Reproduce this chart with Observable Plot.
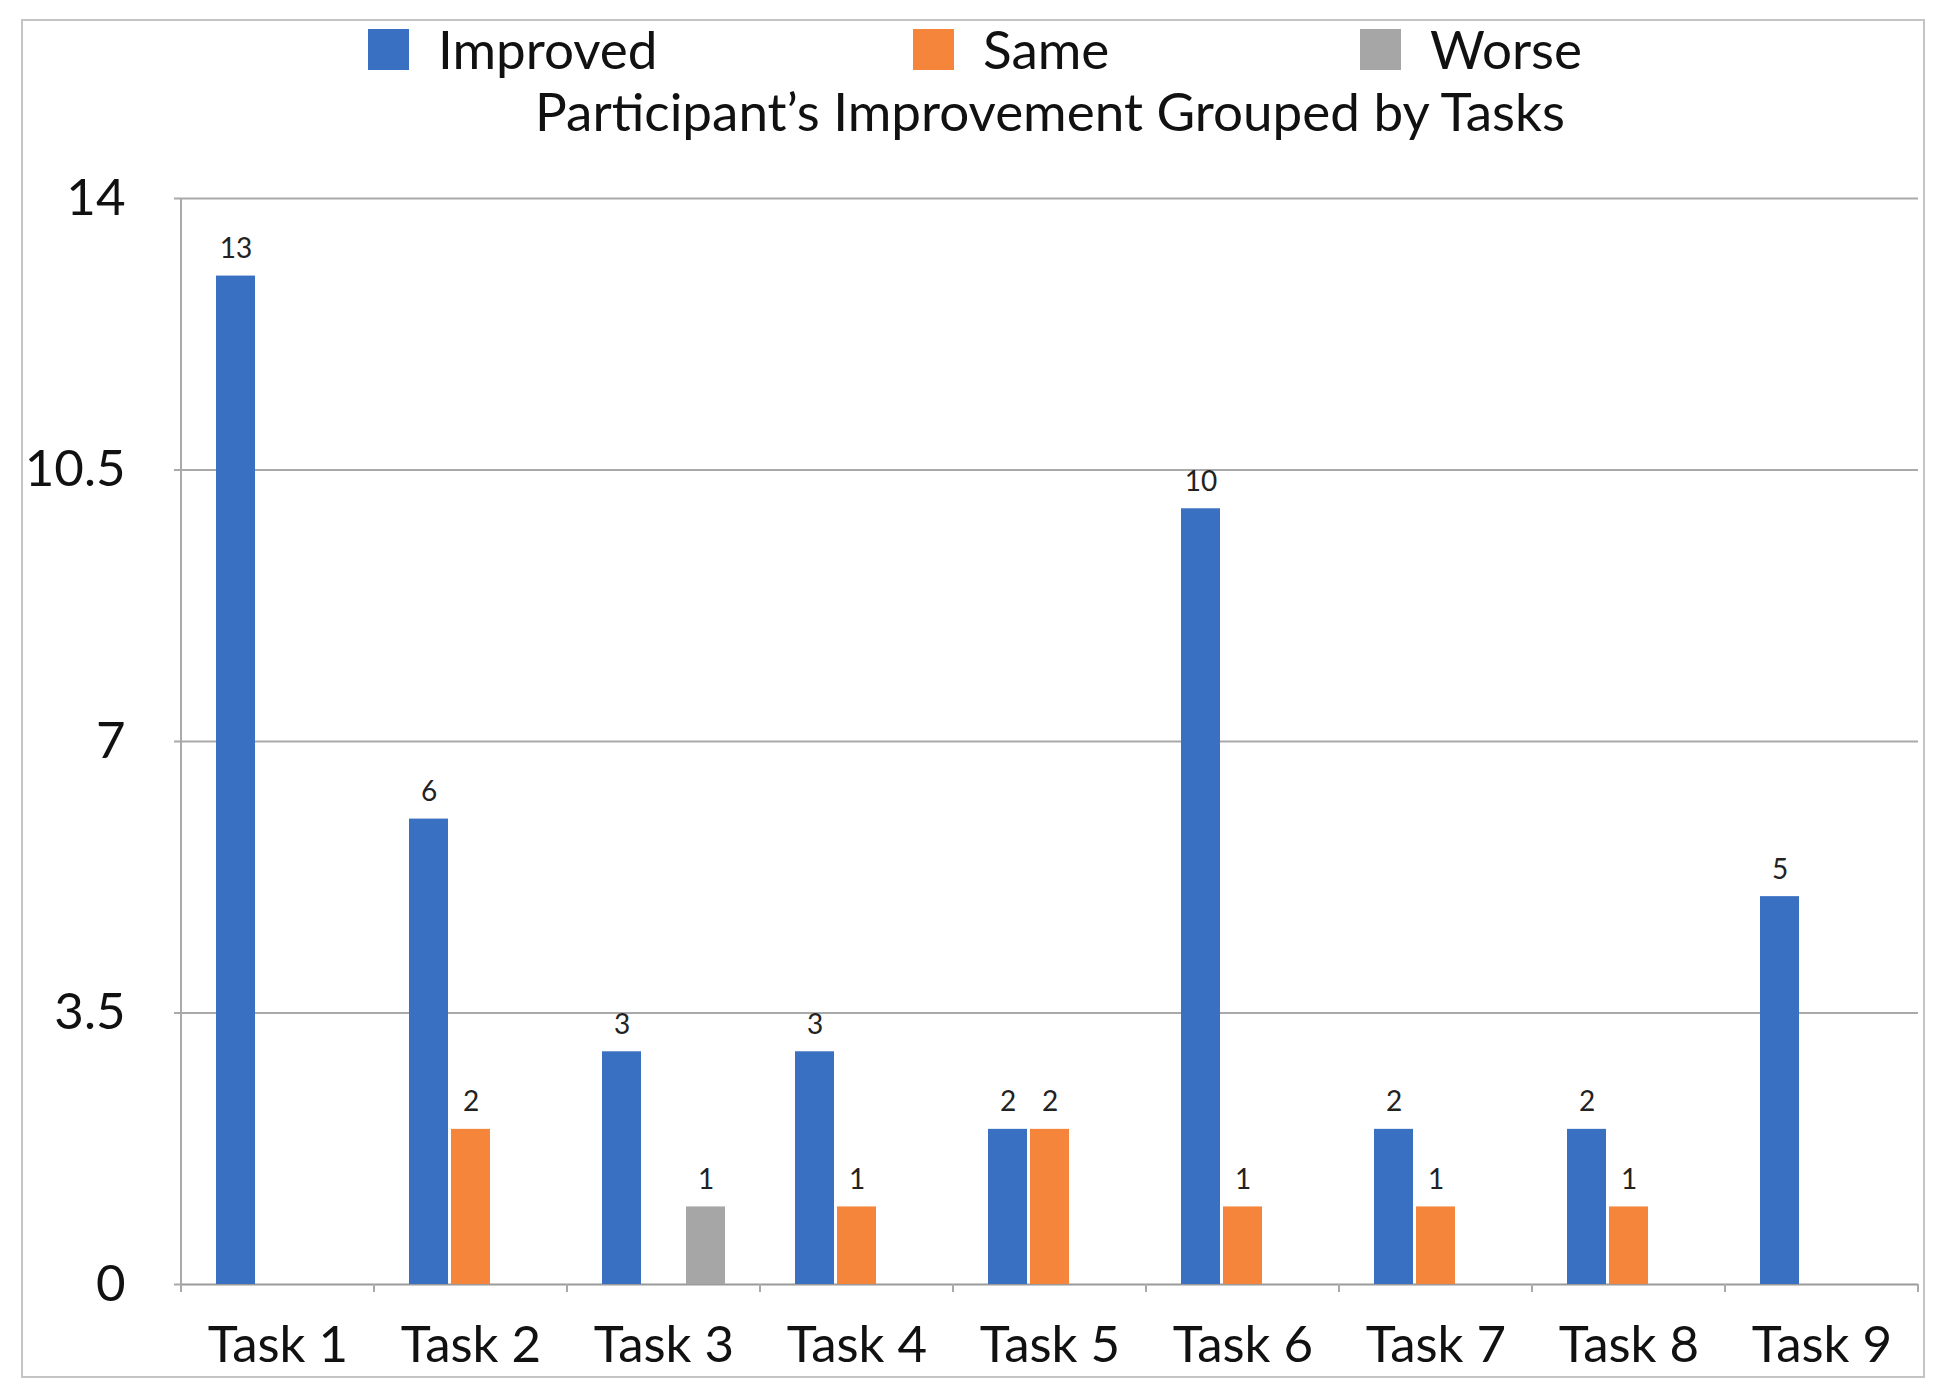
<!DOCTYPE html>
<html><head><meta charset="utf-8">
<script src="https://cdn.jsdelivr.net/npm/d3@7"></script>
<script src="https://cdn.jsdelivr.net/npm/@observablehq/plot@0.6"></script>
<style>
body{margin:0;background:#fff;font-family:Lato,sans-serif;}
#wrap{position:relative;width:1939px;height:1400px;overflow:hidden;background:#fff;}
#frame{position:absolute;left:21px;top:19px;width:1900px;height:1355px;border:2px solid #c4c4c4;pointer-events:none;}
#header{position:relative;height:160px;}
.li{position:absolute;top:24px;height:50px;display:flex;align-items:center;font-size:53px;line-height:50px;color:#111;white-space:nowrap;}
.sw{width:41px;height:41px;margin-right:29px;}
#title{position:absolute;top:85px;left:1050px;transform:translateX(-50%);font-size:53px;line-height:52px;white-space:nowrap;color:#111;}
#chart svg{display:block;}
</style></head>
<body>
<div id="wrap">
  <div id="header">
    <div id="legend"></div>
    <div id="title"></div>
  </div>
  <div id="chart"></div>
  <div id="frame"></div>
</div>
<script>
const tasks = ["Task 1","Task 2","Task 3","Task 4","Task 5","Task 6","Task 7","Task 8","Task 9"];
const series = ["Improved","Same","Worse"];
const improved = [13,6,3,3,2,10,2,2,5];
const same = [0,2,0,1,2,1,1,1,0];
const worse = [0,0,1,0,0,0,0,0,0];
const yTicks = [0,3.5,7,10.5,14];
const colors = ["#3a70c2","#f6853c","#a6a6a6"];
const titleText = "Participant’s Improvement Grouped by Tasks";

const valuesBySeries = {Improved: improved, Same: same, Worse: worse};
const data = tasks.flatMap((t,i) => series.map(s => ({task:t, series:s, value:valuesBySeries[s][i]})))
  .filter(d => d.value > 0);

// legend + title
const legendLefts = [368, 913, 1360];
const legend = document.getElementById("legend");
series.forEach((s,i) => {
  const item = document.createElement("div");
  item.className = "li";
  item.style.left = legendLefts[i] + "px";
  item.innerHTML = `<div class="sw" style="background:${colors[i]}"></div><span>${s}</span>`;
  legend.appendChild(item);
});
document.getElementById("title").textContent = titleText;

const chart = Plot.plot({
  width:1939, height:1240,
  marginTop:38, marginBottom:116, marginLeft:180, marginRight:20,
  style:{fontFamily:"Lato, sans-serif", background:"transparent", color:"#000", overflow:"visible"},
  fx:{domain:tasks, padding:0, label:null},
  x:{domain:series, paddingInner:0.07, paddingOuter:0.8, axis:null},
  y:{domain:[0,14], axis:null},
  color:{domain:series, range:colors},
  marks:[
    Plot.gridY(yTicks.filter(d => d > 0), {stroke:"#a9a9a9", strokeOpacity:1, strokeWidth:2}),
    Plot.ruleY([0], {stroke:"#9a9a9a", strokeWidth:2}),
    Plot.axisY({ticks:yTicks, tickSize:7, text:null, label:null, stroke:"#a9a9a9", strokeWidth:2}),
    Plot.axisY({ticks:yTicks, tickSize:0, tickPadding:56, fontSize:51, fill:"#111", tickFormat:d => String(d), label:null}),
    Plot.barY(data, {fx:"task", x:"series", y:"value", fill:"series"}),
    Plot.text(data, {fx:"task", x:"series", y:"value", text:"value", lineAnchor:"bottom", dy:-18, fontSize:28, fill:"#222"}),
    Plot.axisFx({anchor:"bottom", tickSize:0, tickPadding:41, fontSize:51, fill:"#111", label:null})
  ]
});
document.getElementById("chart").appendChild(chart);

// category boundary ticks and y axis line, from the library's scales
const fx = chart.scale("fx");
const y = chart.scale("y");
const y0 = y.apply(0);
const yTop = y.apply(14);
const bounds = tasks.map(t => fx.apply(t)).concat([fx.apply(tasks[tasks.length-1]) + fx.bandwidth]);
const g = d3.select(chart).append("g").attr("stroke","#a9a9a9").attr("stroke-width",2);
bounds.forEach(b => g.append("line").attr("x1",b).attr("x2",b).attr("y1",y0).attr("y2",y0+8));
g.append("line").attr("x1",bounds[0]).attr("x2",bounds[0]).attr("y1",yTop).attr("y2",y0);
</script>
</body></html>
